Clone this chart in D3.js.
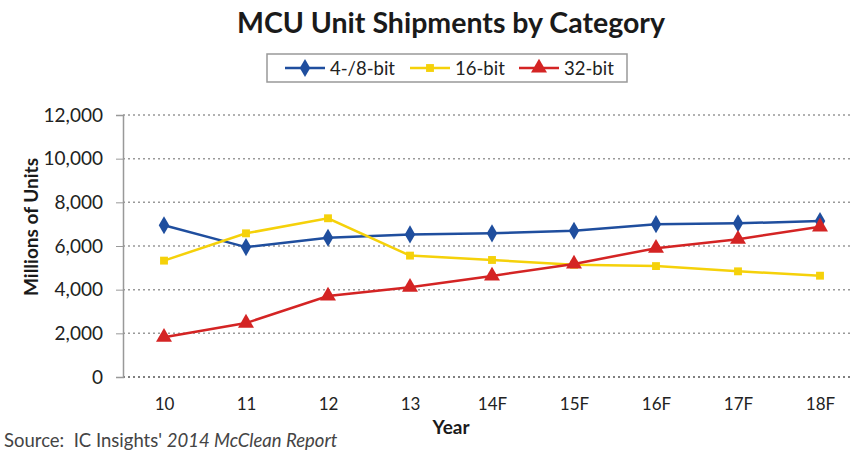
<!DOCTYPE html>
<html><head><meta charset="utf-8">
<script src="https://cdn.jsdelivr.net/npm/d3@7"></script>
<style>body{margin:0;background:#fff;} svg{display:block;}</style>
</head><body>
<svg id="c" width="850" height="450"></svg>
<script>
const categories = ["10","11","12","13","14F","15F","16F","17F","18F"];
const bit8 = [6950, 5950, 6380, 6530, 6580, 6700, 7000, 7040, 7140];
const bit16 = [5330, 6580, 7270, 5560, 5360, 5140, 5080, 4840, 4640];
const bit32 = [1820, 2470, 3710, 4110, 4630, 5180, 5900, 6310, 6880];
const yTicks = [0, 2000, 4000, 6000, 8000, 10000, 12000];
const seriesNames = ["4-/8-bit", "16-bit", "32-bit"];
const colors = ["#1F4E9E", "#F5D10A", "#D42424"];
const series = [bit8, bit16, bit32];
const shapes = [d3.symbolDiamond, d3.symbolSquare, d3.symbolTriangle];

const svg = d3.select("#c");
const font = "Lato, 'Open Sans', sans-serif";
const pLeft = 123, pRight = 861, pTop = 115, pBottom = 377;
const x = d3.scalePoint().domain(categories).range([pLeft, pRight]).padding(0.5);
const y = d3.scaleLinear().domain([0, 12000]).range([pBottom, pTop]);

// gridlines
svg.append("g").selectAll("line").data(yTicks).join("line")
  .attr("x1", pLeft).attr("x2", 850)
  .attr("y1", d => y(d)).attr("y2", d => y(d))
  .attr("stroke", d => d === 0 ? "#555" : "#999")
  .attr("stroke-width", 1.5)
  .attr("stroke-dasharray", "2,3");

// y axis
const yAxis = d3.axisLeft(y).tickValues(yTicks).tickSize(7).tickPadding(13)
  .tickFormat(d3.format(","));
const ya = svg.append("g").attr("transform", `translate(${pLeft},0)`).call(yAxis);
ya.select(".domain").attr("stroke", "#999").attr("stroke-width", 1.5);
ya.selectAll(".tick line").attr("stroke", "#999");
ya.selectAll("text").attr("font-family", font).attr("font-size", 19).attr("fill", "#222");

// x axis labels
const xAxis = d3.axisBottom(x).tickSize(0).tickPadding(21);
const xa = svg.append("g").attr("transform", `translate(0,${pBottom})`).call(xAxis);
xa.select(".domain").remove();
xa.selectAll("text").attr("font-family", font).attr("font-size", 17).attr("fill", "#222");

// lines
const line = d3.line().x((d, i) => x(categories[i])).y(d => y(d));
series.forEach((s, k) => {
  svg.append("path").datum(s).attr("d", line)
    .attr("fill", "none").attr("stroke", colors[k]).attr("stroke-width", 2.5);
});
const sizes = [95, 62, 110];
series.forEach((s, k) => {
  svg.append("g").selectAll("path").data(s).join("path")
    .attr("transform", (d, i) => `translate(${x(categories[i])},${y(d)})`)
    .attr("d", d3.symbol().type(shapes[k]).size(sizes[k]))
    .attr("fill", colors[k]);
});

// title
svg.append("text").attr("x", 451).attr("y", 33).attr("text-anchor", "middle")
  .attr("font-family", font).attr("font-weight", "bold").attr("font-size", 28.5)
  .attr("fill", "#1a1a1a").text("MCU Unit Shipments by Category");

// legend
svg.append("rect").attr("x", 267).attr("y", 54).attr("width", 360).attr("height", 28)
  .attr("fill", "#fff").attr("stroke", "#999").attr("stroke-width", 1.5);
const legX = [285, 410, 519];
seriesNames.forEach((n, k) => {
  const g = svg.append("g").attr("transform", `translate(${legX[k]},68)`);
  g.append("line").attr("x1", 0).attr("x2", 40).attr("stroke", colors[k]).attr("stroke-width", 2.5);
  g.append("path").attr("transform", "translate(20,0)")
    .attr("d", d3.symbol().type(shapes[k]).size(sizes[k])).attr("fill", colors[k]);
  g.append("text").attr("x", 45).attr("y", 6.5).attr("font-family", font).attr("font-size", 18.5)
    .attr("fill", "#222").text(n);
});

// axis titles
svg.append("text").attr("transform", "translate(38,227) rotate(-90)").attr("text-anchor", "middle")
  .attr("font-family", font).attr("font-weight", "bold").attr("font-size", 19).attr("fill", "#1a1a1a")
  .text("Millions of Units");
svg.append("text").attr("x", 451).attr("y", 434).attr("text-anchor", "middle")
  .attr("font-family", font).attr("font-weight", "bold").attr("font-size", 19).attr("fill", "#1a1a1a")
  .text("Year");

// source
const src = svg.append("text").attr("x", 4).attr("y", 447).attr("font-family", font)
  .attr("font-size", 18.5).attr("fill", "#444").style("white-space", "pre");
src.append("tspan").text("Source:  IC Insights' ");
src.append("tspan").attr("font-style", "italic").text("2014 McClean Report");
</script>
</body></html>
